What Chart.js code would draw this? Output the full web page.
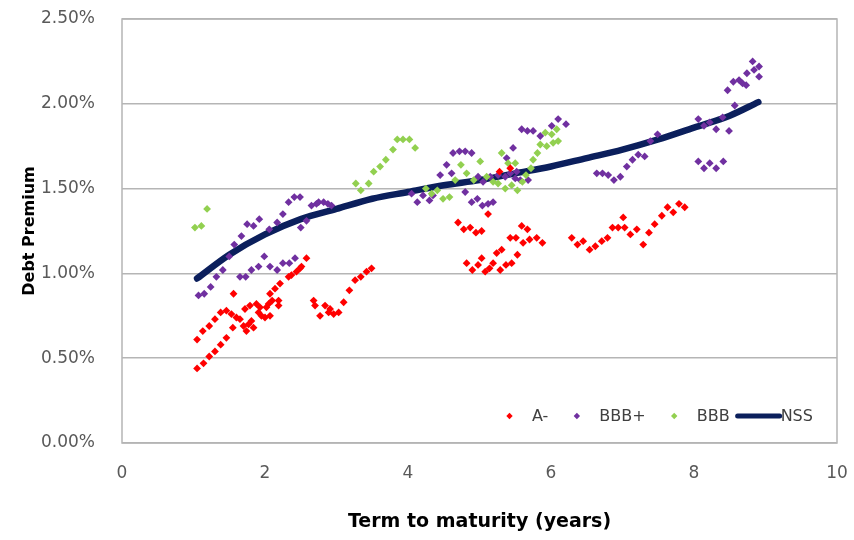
<!DOCTYPE html>
<html>
<head>
<meta charset="utf-8">
<script src="https://cdn.jsdelivr.net/npm/chart.js@4.4.1/dist/chart.umd.min.js"></script>
<style>
  html, body { margin: 0; padding: 0; background: #fff; }
</style>
</head>
<body>
<canvas id="chart" width="854" height="540"></canvas>
<script>
// ── Data (term in years, premium in %) ─────────────────────────────────
const xTickValues = [0, 2, 4, 6, 8, 10];
const yTickValues = [0, 0.5, 1.0, 1.5, 2.0, 2.5];
const seriesNames = ['A-', 'BBB+', 'BBB', 'NSS'];

const aMinus = [
    [1.05, 0.44], [1.14, 0.47], [1.22, 0.51], [1.30, 0.54], [1.38, 0.58], [1.46, 0.62], [1.55, 0.68],
    [1.05, 0.61], [1.13, 0.66], [1.22, 0.69], [1.30, 0.73], [1.38, 0.77], [1.46, 0.78], [1.53, 0.76],
    [1.60, 0.74], [1.65, 0.73], [1.56, 0.88], [1.70, 0.69], [1.74, 0.66], [1.77, 0.70], [1.81, 0.72],
    [1.84, 0.68], [1.72, 0.79], [1.79, 0.81], [1.88, 0.82], [1.91, 0.77], [1.93, 0.80], [1.95, 0.75],
    [2.00, 0.74], [2.02, 0.80], [2.05, 0.82], [2.07, 0.75], [2.10, 0.84], [2.07, 0.88], [2.14, 0.91],
    [2.19, 0.81], [2.19, 0.84], [2.21, 0.94], [2.33, 0.98], [2.37, 0.99], [2.44, 1.01], [2.49, 1.03],
    [2.51, 1.04], [2.58, 1.09],
    [2.68, 0.84], [2.70, 0.81], [2.77, 0.75], [2.84, 0.81], [2.89, 0.77], [2.91, 0.79], [2.96, 0.76],
    [3.03, 0.77], [3.10, 0.83], [3.18, 0.90], [3.26, 0.96], [3.34, 0.98], [3.42, 1.01], [3.49, 1.03],
    [4.70, 1.30], [4.78, 1.26], [4.87, 1.27], [4.95, 1.24], [5.03, 1.25], [5.12, 1.35],
    [4.82, 1.06], [4.90, 1.02], [4.98, 1.05], [5.03, 1.09], [5.08, 1.01], [5.14, 1.03], [5.19, 1.06],
    [5.24, 1.12], [5.31, 1.14], [5.29, 1.02], [5.37, 1.05], [5.45, 1.06], [5.53, 1.11],
    [5.43, 1.21], [5.51, 1.21], [5.59, 1.28], [5.67, 1.26], [5.61, 1.18], [5.70, 1.20], [5.80, 1.21],
    [5.88, 1.18], [5.28, 1.60], [5.43, 1.62],
    [6.29, 1.21], [6.37, 1.17], [6.45, 1.19], [6.54, 1.14], [6.62, 1.16], [6.71, 1.19], [6.79, 1.21],
    [6.86, 1.27], [6.94, 1.27], [7.01, 1.33], [7.03, 1.27], [7.11, 1.23], [7.20, 1.26], [7.29, 1.17],
    [7.37, 1.24], [7.45, 1.29], [7.55, 1.34], [7.63, 1.39], [7.71, 1.36], [7.79, 1.41], [7.87, 1.39],
];

const bbbPlus = [
    [1.07, 0.87], [1.15, 0.88], [1.24, 0.92], [1.32, 0.98], [1.41, 1.02], [1.50, 1.10], [1.57, 1.17],
    [1.67, 1.22], [1.75, 1.29], [1.84, 1.28], [1.92, 1.32],
    [1.65, 0.98], [1.73, 0.98], [1.81, 1.02], [1.91, 1.04], [1.99, 1.10], [2.07, 1.04], [2.17, 1.02],
    [2.25, 1.06], [2.34, 1.06], [2.42, 1.09],
    [2.06, 1.26], [2.17, 1.30], [2.25, 1.35], [2.33, 1.42], [2.41, 1.45], [2.49, 1.45], [2.50, 1.27],
    [2.58, 1.31], [2.65, 1.40], [2.72, 1.41], [2.75, 1.42], [2.82, 1.42], [2.88, 1.41], [2.93, 1.40],
    [4.05, 1.47], [4.13, 1.42], [4.21, 1.46], [4.30, 1.43], [4.35, 1.46], [4.45, 1.58], [4.54, 1.64],
    [4.61, 1.59], [4.63, 1.71], [4.72, 1.72], [4.80, 1.72], [4.89, 1.71],
    [4.80, 1.48], [4.89, 1.42], [4.97, 1.44], [5.04, 1.40], [5.12, 1.41], [5.19, 1.42], [5.05, 1.54],
    [4.98, 1.57], [5.15, 1.57], [5.38, 1.68], [5.47, 1.74], [5.26, 1.58], [5.36, 1.57], [5.43, 1.59],
    [5.50, 1.56], [5.57, 1.55], [5.68, 1.55], [5.52, 1.60],
    [5.59, 1.85], [5.67, 1.84], [5.75, 1.84], [5.85, 1.81], [6.01, 1.87], [6.10, 1.91], [6.21, 1.88],
    [6.64, 1.59], [6.72, 1.59], [6.80, 1.58], [6.88, 1.55], [6.97, 1.57], [7.06, 1.63], [7.14, 1.67],
    [7.22, 1.70], [7.31, 1.69], [7.39, 1.78], [7.49, 1.82],
    [8.06, 1.91], [8.14, 1.87], [8.22, 1.89], [8.31, 1.85], [8.40, 1.92], [8.49, 1.84], [8.57, 1.99],
    [8.06, 1.66], [8.14, 1.62], [8.22, 1.65], [8.31, 1.62], [8.41, 1.66],
    [8.47, 2.08], [8.55, 2.13], [8.63, 2.14], [8.68, 2.12], [8.73, 2.11], [8.74, 2.18], [8.82, 2.25],
    [8.84, 2.20], [8.91, 2.22], [8.91, 2.16],
];

const bbb = [
    [1.02, 1.27], [1.11, 1.28], [1.19, 1.38],
    [3.27, 1.53], [3.34, 1.49], [3.45, 1.53], [3.52, 1.60], [3.61, 1.63], [3.69, 1.67], [3.79, 1.73],
    [3.85, 1.79], [3.93, 1.79], [4.02, 1.79], [4.10, 1.74],
    [4.25, 1.50], [4.33, 1.47], [4.41, 1.49], [4.49, 1.44], [4.58, 1.45], [4.66, 1.55], [4.74, 1.64],
    [4.82, 1.59], [4.92, 1.55], [5.01, 1.66], [5.10, 1.57], [5.19, 1.54], [5.26, 1.53], [5.31, 1.71],
    [5.36, 1.50], [5.40, 1.65], [5.45, 1.52], [5.50, 1.65], [5.53, 1.49], [5.60, 1.54], [5.65, 1.58],
    [5.72, 1.62], [5.75, 1.67], [5.81, 1.71], [5.85, 1.76], [5.92, 1.83], [6.01, 1.82], [6.08, 1.85],
    [5.94, 1.75], [6.03, 1.77], [6.10, 1.78],
];

const nssTerm    = [1.05, 1.5, 2.0, 2.5, 3.0, 3.5, 4.0, 4.5, 5.0, 5.5, 6.0, 6.5, 7.0, 7.5, 8.0, 8.5, 8.9];
const nssPremium = [0.97, 1.11, 1.23, 1.32, 1.38, 1.44, 1.48, 1.52, 1.55, 1.59, 1.63, 1.68, 1.73, 1.79, 1.86, 1.93, 2.01];

// ── Helpers ────────────────────────────────────────────────────────────
const toPoints = arr => arr.map(([x, y]) => ({ x, y }));
const GRID = '#b5b5b5';
const TEXT = '#595959';

// plot area box like the Excel original
const plotBorder = {
    id: 'plotBorder',
    beforeDatasetsDraw(chart) {
        const { ctx, chartArea: a } = chart;
        ctx.save();
        ctx.strokeStyle = GRID;
        ctx.lineWidth = 1.5;
        ctx.strokeRect(a.left, a.top, a.right - a.left, a.bottom - a.top);
        ctx.restore();
    },
};

// legend drawn inside the plot, bottom right
const insideLegend = {
    id: 'insideLegend',
    afterDraw(chart) {
        const { ctx, chartArea } = chart;
        const y = chartArea.bottom - 27;
        let x = chartArea.right - 350;
        ctx.save();
        ctx.font = "16px 'DejaVu Sans'";
        ctx.textBaseline = 'middle';
        chart.data.datasets.forEach(ds => {
            if (ds.showLine) {
                ctx.strokeStyle = ds.borderColor;
                ctx.lineWidth = 5;
                ctx.lineCap = 'round';
                ctx.beginPath();
                ctx.moveTo(x + 2, y);
                ctx.lineTo(x + 44, y);
                ctx.stroke();
            } else {
                const cx = x + 22.5, r = 3.2;
                ctx.fillStyle = ds.backgroundColor;
                ctx.beginPath();
                ctx.moveTo(cx, y - r);
                ctx.lineTo(cx + r, y);
                ctx.lineTo(cx, y + r);
                ctx.lineTo(cx - r, y);
                ctx.closePath();
                ctx.fill();
            }
            x += 45;
            ctx.fillStyle = '#404040';
            ctx.fillText(ds.label, x, y + 1);
            x += ctx.measureText(ds.label).width + 6;
        });
        ctx.restore();
    },
};

function scatterSet(label, pts, color, order) {
    return {
        label,
        data: toPoints(pts),
        backgroundColor: color,
        borderColor: color,
        pointStyle: 'rectRot',
        pointRadius: 3.9,
        pointBorderWidth: 0,
        showLine: false,
        order,
    };
}

new Chart(document.getElementById('chart'), {
    type: 'scatter',
    data: {
        datasets: [
            scatterSet(seriesNames[0], aMinus, '#ff0000', 1),
            scatterSet(seriesNames[1], bbbPlus, '#7030a0', 3),
            scatterSet(seriesNames[2], bbb, '#92d050', 2),
            {
                label: seriesNames[3],
                data: nssTerm.map((t, i) => ({ x: t, y: nssPremium[i] })),
                showLine: true,
                borderColor: '#0b1f5c',
                backgroundColor: '#0b1f5c',
                borderWidth: 6.5,
                borderCapStyle: 'round',
                cubicInterpolationMode: 'monotone',
                pointRadius: 0,
                order: 4,
            },
        ],
    },
    options: {
        responsive: false,
        animation: false,
        layout: { padding: { top: 19, right: 17, bottom: 0, left: 0 } },
        scales: {
            x: {
                type: 'linear',
                min: 0,
                max: 10,
                afterBuildTicks: s => { s.ticks = xTickValues.map(v => ({ value: v })); },
                afterFit: s => { s.height = 97; },
                // invisible tick marks push the labels away from the axis
                grid: {
                    display: true,
                    drawOnChartArea: false,
                    drawTicks: true,
                    tickLength: 20,
                    color: 'rgba(0,0,0,0)',
                    tickColor: 'rgba(0,0,0,0)',
                },
                border: { display: false },
                ticks: {
                    padding: 0,
                    color: TEXT,
                    font: { family: "'DejaVu Sans'", size: 17 },
                },
                title: {
                    display: true,
                    text: 'Term to maturity (years)',
                    color: '#000',
                    font: { family: "'DejaVu Sans'", size: 19, weight: 'bold' },
                    padding: { top: 0, bottom: 7 },
                },
            },
            y: {
                min: 0,
                max: 2.5,
                afterBuildTicks: s => { s.ticks = yTickValues.map(v => ({ value: v })); },
                afterFit: s => { s.width = 122; },
                grid: {
                    color: GRID,
                    lineWidth: 1.5,
                    drawTicks: true,
                    tickLength: 27,
                    tickColor: 'rgba(0,0,0,0)',
                },
                border: { display: false },
                ticks: {
                    padding: 0,
                    color: TEXT,
                    font: { family: "'DejaVu Sans'", size: 17 },
                    callback: v => v.toFixed(2) + '%',
                },
                title: {
                    display: true,
                    text: 'Debt Premium',
                    color: '#000',
                    font: { family: "'DejaVu Sans'", size: 16, weight: 'bold' },
                    padding: { top: 20, bottom: 0 },
                },
            },
        },
        plugins: {
            legend: { display: false },
            tooltip: { enabled: false },
        },
    },
    plugins: [plotBorder, insideLegend],
});
</script>
</body>
</html>
